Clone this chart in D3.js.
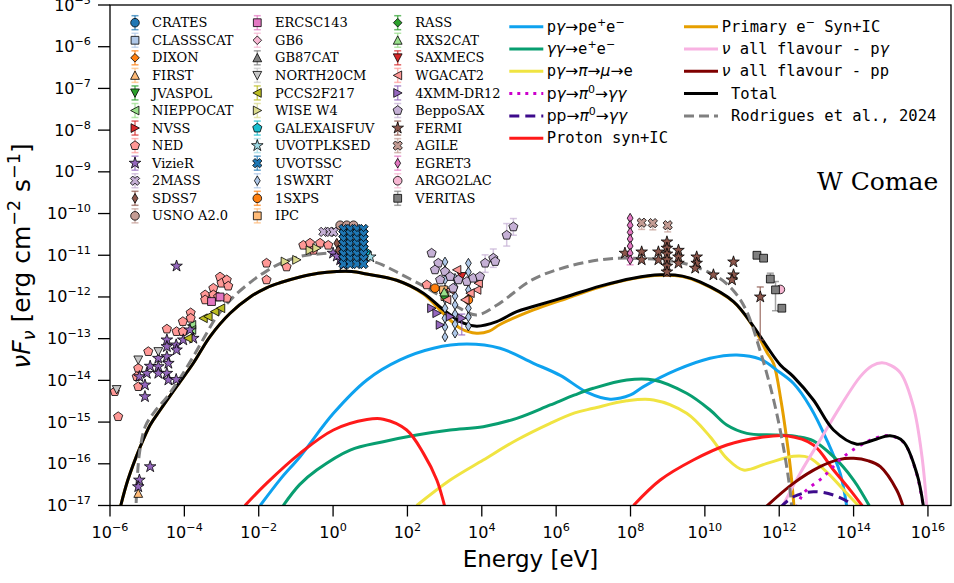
<!DOCTYPE html>
<html><head><meta charset="utf-8">
<script src="https://cdn.jsdelivr.net/npm/d3@7"></script>
<style>body{margin:0;background:#fff}svg{display:block}</style>
</head><body><svg id="chart" width="954" height="583"></svg>
<script>
// ---- Model curves: [log10 E/eV, log10 nuFnu] ----
const totalModel = [[-5.71,-17.0],[-5.52,-16.39],[-5.19,-15.6],[-4.92,-15.07],[-4.65,-14.71],[-4.21,-14.15],[-3.76,-13.59],[-3.31,-12.95],[-2.77,-12.39],[-2.23,-12.0],[-1.79,-11.78],[-1.43,-11.66],[-0.89,-11.52],[-0.4,-11.43],[0.1,-11.39],[0.5,-11.39],[0.9,-11.45],[1.71,-11.6],[2.43,-11.91],[2.97,-12.31],[3.51,-12.63],[3.87,-12.70],[4.40,-12.59],[4.94,-12.35],[5.38,-12.23],[6.29,-11.99],[7.18,-11.74],[8.07,-11.55],[8.8,-11.47],[9.4,-11.5],[9.87,-11.64],[10.77,-12.11],[11.31,-12.71],[11.67,-13.19],[12.03,-13.63],[12.38,-13.91],[12.92,-14.47],[13.46,-15.19],[14.09,-15.53],[14.54,-15.43],[14.98,-15.33],[15.34,-15.47],[15.70,-16.23],[15.88,-17.03]];
const primaryElectrons = [[-5.71,-17.0],[-5.52,-16.39],[-5.19,-15.6],[-4.92,-15.07],[-4.65,-14.71],[-4.21,-14.15],[-3.76,-13.59],[-3.31,-12.95],[-2.77,-12.39],[-2.23,-12.0],[-1.79,-11.78],[-1.43,-11.66],[-0.89,-11.52],[-0.4,-11.43],[0.1,-11.39],[0.5,-11.39],[0.9,-11.45],[1.71,-11.6],[2.43,-11.93],[2.97,-12.40],[3.42,-12.75],[3.86,-12.87],[4.2,-12.82],[4.49,-12.66],[5.39,-12.31],[6.29,-12.03],[7.18,-11.76],[8.07,-11.56],[8.8,-11.48],[9.4,-11.51],[9.87,-11.65],[10.77,-12.12],[11.31,-12.73],[11.67,-13.33],[11.85,-13.6],[12.05,-14.5],[12.2,-15.4],[12.3,-16.1],[12.4,-17.05]];
const bhPairs = [[-1.96,-17.0],[-1.4,-16.35],[-0.89,-15.83],[0.01,-14.79],[0.91,-13.99],[1.80,-13.51],[2.70,-13.23],[3.60,-13.13],[4.49,-13.23],[5.39,-13.59],[6.11,-13.88],[6.82,-14.28],[7.45,-14.45],[8.0,-14.35],[8.35,-14.15],[9.24,-13.75],[10.14,-13.47],[10.86,-13.39],[11.49,-13.49],[12.0,-13.8],[12.38,-14.07],[12.83,-14.63],[13.28,-15.43],[13.64,-16.23],[13.82,-17.05]];
const ggPairs = [[-1.34,-17.0],[-0.9,-16.5],[-0.44,-16.15],[0.46,-15.67],[1.35,-15.47],[2.25,-15.31],[3.15,-15.19],[4.04,-15.11],[4.94,-14.91],[5.84,-14.59],[6.5,-14.35],[7.0,-14.19],[7.9,-13.99],[8.62,-13.99],[9.51,-14.31],[10.14,-14.71],[10.59,-15.07],[11.13,-15.27],[11.94,-15.31],[12.5,-15.35],[12.92,-15.45],[13.46,-15.83],[14.0,-16.39],[14.45,-17.05]];
const pionDecayElectrons = [[2.25,-17.0],[3.15,-16.39],[4.04,-15.91],[4.94,-15.43],[5.84,-15.03],[6.5,-14.78],[7.0,-14.67],[7.9,-14.49],[8.62,-14.47],[9.51,-14.79],[10.14,-15.35],[10.59,-15.87],[11.04,-16.15],[11.67,-15.99],[12.38,-15.82],[12.8,-15.85],[13.28,-16.2],[13.82,-16.71],[14.18,-17.05]];
const protonSynLow = [[-2.37,-17.0],[-1.79,-16.47],[-0.89,-15.75],[0.01,-15.19],[0.91,-14.94],[1.35,-14.93],[1.98,-15.19],[2.43,-15.75],[2.79,-16.39],[3.01,-17.05]];
const protonSynHigh = [[8.08,-17.0],[8.80,-16.39],[9.69,-15.91],[10.59,-15.55],[11.49,-15.37],[12.2,-15.33],[12.92,-15.55],[13.46,-16.15],[13.91,-16.63],[14.27,-17.05]];
const pgPi0 = [[12.47,-17.05],[12.65,-16.71],[13.19,-16.31],[13.73,-15.83],[14.36,-15.47],[14.72,-15.35],[15.0,-15.33],[15.34,-15.48],[15.7,-16.25],[15.88,-17.05]];
const ppPi0 = [[12.03,-17.05],[12.38,-16.79],[12.92,-16.67],[13.46,-16.75],[13.91,-16.95],[14.0,-17.05]];
const nuPg = [[12.07,-17.05],[12.56,-16.23],[13.1,-15.43],[13.64,-14.63],[14.18,-13.91],[14.5,-13.65],[14.76,-13.58],[15.0,-13.64],[15.27,-13.83],[15.61,-14.63],[15.84,-15.83],[15.97,-17.05]];
const nuPp = [[11.62,-17.05],[12.38,-16.47],[13.1,-16.07],[13.6,-15.9],[14.0,-15.87],[14.4,-15.93],[14.72,-16.07],[15.16,-16.63],[15.34,-17.05]];
const rodrigues2024 = [[-5.31,-17.3],[-5.27,-16.4],[-5.2,-15.7],[-5.05,-15.1],[-4.8,-14.75],[-4.47,-14.4],[-4.12,-13.95],[-3.76,-13.43],[-3.40,-12.87],[-3.13,-12.47],[-2.68,-12.0],[-2.14,-11.59],[-1.79,-11.38],[-1.43,-11.2],[-0.9,-11.03],[-0.4,-10.97],[0.28,-10.95],[0.82,-11.08],[1.3,-11.22],[1.75,-11.42],[2.61,-11.83],[3.33,-12.23],[3.86,-12.43],[4.4,-12.2],[5.35,-11.59],[6.2,-11.3],[7.18,-11.11],[8.08,-11.07],[9.42,-11.19],[10.32,-11.51],[10.77,-11.85],[11.1,-12.3],[11.49,-13.3],[11.85,-14.47],[12.11,-15.59],[12.29,-16.63],[12.36,-17.3]];

// ---- Archival photometry: [log10 E, log10 nuFnu, (err down), (err up)] ----
const CRATES = [];
const CLASSSCAT = [];
const DIXON = [];
const FIRST = [[-5.24,-16.71]];
const JVASPOL = [];
const NIEPPOCAT = [[-3.80,-12.67],[-3.80,-12.79]];
const NVSS = [];
const NED = [[-5.87,-14.27],[-5.78,-14.87],[-5.24,-13.71],[-5.28,-13.91],[-5.24,-14.15],[-4.97,-13.31],[-4.47,-12.77],[-4.21,-12.83],[-4.04,-12.59],[-4.04,-12.83],[-3.83,-12.38],[-3.83,-12.51],[-3.44,-11.95],[-3.44,-12.07],[-3.22,-11.79],[-3.22,-11.95],[-3.04,-11.52],[-3.0,-11.67],[-2.86,-11.59],[-2.82,-11.74],[-3.09,-12.0],[-2.86,-12.03],[-1.79,-11.19],[-1.79,-11.59],[-1.25,-11.28],[-0.80,-10.76],[-0.62,-10.71],[-0.35,-10.71],[-0.13,-10.76],[-0.53,-10.88],[2.52,-11.71]];
const VizieR = [[-4.21,-11.26],[-4.92,-16.07],[-5.21,-16.39],[-5.24,-16.55],[-5.01,-13.83],[-4.92,-13.66],[-5.21,-13.91],[-5.06,-14.11],[-5.06,-14.39],[-4.70,-13.67],[-4.70,-13.83],[-4.47,-13.03],[-4.47,-13.19],[-4.47,-13.43],[-4.43,-13.59],[-4.47,-13.83],[-4.43,-13.99],[-4.22,-13.15],[-4.22,-13.98],[-4.21,-13.27],[-4.03,-13.03],[-3.76,-12.99],[-3.85,-12.79],[-4.70,-13.47],[0.0,-10.95],[0.19,-11.11],[0.28,-11.23],[0.10,-11.02]];
const TWOMASS = [[-0.26,-10.44],[-0.08,-10.44],[0.01,-10.44]];
const SDSS7 = [[0.10,-10.71],[0.14,-10.88]];
const USNO = [[0.19,-10.28],[0.37,-10.28],[0.55,-10.28]];
const ERCSC143 = [[-3.27,-12.11],[-3.04,-12.0]];
const GB6 = [];
const GB87CAT = [];
const NORTH20CM = [[-5.82,-14.22],[-5.24,-13.51],[-4.70,-13.31]];
const PCCS2F217 = [[-3.49,-12.51],[-3.36,-12.47],[-3.18,-12.35],[-3.02,-12.27],[-3.90,-12.99]];
const WISEW4 = [[-1.29,-11.15],[-0.98,-11.11],[-0.62,-10.88],[-0.44,-10.83]];
const GALEXAISFUV = [[0.91,-10.95]];
const UVOTPLKSED = [[1.0,-11.04]];
const UVOTSSC = [
  [0.28,-10.37],[0.28,-10.49],[0.28,-10.61],[0.28,-10.73],[0.28,-10.85],[0.28,-10.97],[0.28,-11.09],[0.28,-11.21],
  [0.46,-10.37],[0.46,-10.49],[0.46,-10.61],[0.46,-10.73],[0.46,-10.85],[0.46,-10.97],[0.46,-11.09],[0.46,-11.21],
  [0.64,-10.37],[0.64,-10.49],[0.64,-10.61],[0.64,-10.73],[0.64,-10.85],[0.64,-10.97],[0.64,-11.09],[0.64,-11.21],
  [0.82,-10.37],[0.82,-10.49],[0.82,-10.61],[0.82,-10.73],[0.82,-10.85],[0.82,-10.97],[0.82,-11.09],[0.82,-11.21]];
const SWXRT = [
  [3.01,-11.16],[3.01,-11.37],[3.01,-11.59],[3.01,-11.83],[3.01,-12.05],[3.01,-12.27],[3.01,-12.51],[3.01,-12.72],[3.01,-12.96],
  [3.28,-11.55],[3.28,-11.76],[3.28,-11.98],[3.28,-12.19],[3.28,-12.41],[3.28,-12.65],[3.28,-12.87],
  [3.64,-11.19],[3.64,-11.40],[3.64,-11.62],[3.64,-11.83],[3.64,-12.05],[3.64,-12.27],[3.64,-12.48],[3.64,-12.70]];
const SXPS = [[2.74,-11.79],[3.64,-12.07]];
const IPC = [[2.97,-11.83],[3.01,-11.99]];
const RASS = [[3.01,-11.99]];
const RXS2CAT = [[2.99,-11.88]];
const SAXMECS = [[3.46,-11.51]];
const WGACAT2 = [[3.15,-11.83],[3.33,-11.35],[3.87,-11.83],[3.69,-11.91],[3.06,-12.07],[3.91,-11.67],[3.55,-12.07]];
const XMMDR12 = [[2.65,-12.27],[2.79,-12.39],[3.15,-12.47],[3.46,-12.51,0.4,0.1],[2.88,-12.67]];
const BeppoSAX = [[2.65,-10.95],[2.83,-11.19],[2.74,-11.35],[3.01,-11.39],[2.88,-11.59],[3.15,-11.51],[3.37,-11.59],[3.60,-11.63],[3.77,-11.55],[3.95,-11.51],[3.23,-11.79],[4.09,-11.19,0.22,0.2],[4.31,-11.07,0.22,0.22],[4.36,-11.15],[4.67,-10.52,0.26,0.28],[4.85,-10.32,0.2,0.2]];
const FERMI = [[7.85,-10.95],[8.30,-10.92],[8.30,-11.11],[8.75,-10.92],[8.75,-11.11],[8.98,-10.68],[8.98,-10.83],[8.98,-10.97],[8.98,-11.11],[8.98,-11.26],[8.98,-11.40,0.1,0.05],[9.29,-10.88],[9.29,-11.04],[9.29,-11.19],[9.78,-11.04],[9.78,-11.19],[9.74,-11.31],[10.23,-11.47],[10.77,-11.16],[10.77,-11.47],[10.73,-11.59],[11.49,-12.0,1.03,0.24]];
const AGILE = [[8.30,-10.22,0.16,0.04],[8.60,-10.23,0.16,0.04],[9.0,-10.28,0.16,0.04]];
const EGRET3 = [[7.99,-10.11],[7.99,-10.28],[7.99,-10.45],[7.99,-10.61],[7.99,-10.78],[7.99,-10.95],[7.99,-11.11,0.12,0.05]];
const ARGO2LAC = [[12.03,-11.82]];
const VERITAS = [[11.40,-11.0],[11.58,-11.07],[11.76,-11.57,0.06,0.14],[11.90,-11.83,0.5,0.2],[12.07,-12.27]];

const catalogNames = ["CRATES","CLASSSCAT","DIXON","FIRST","JVASPOL","NIEPPOCAT","NVSS","NED","VizieR","2MASS","SDSS7","USNO A2.0",
  "ERCSC143","GB6","GB87CAT","NORTH20CM","PCCS2F217","WISE W4","GALEXAISFUV","UVOTPLKSED","UVOTSSC","1SWXRT","1SXPS","IPC",
  "RASS","RXS2CAT","SAXMECS","WGACAT2","4XMM-DR12","BeppoSAX","FERMI","AGILE","EGRET3","ARGO2LAC","VERITAS"];
const catalogData = [CRATES,CLASSSCAT,DIXON,FIRST,JVASPOL,NIEPPOCAT,NVSS,NED,VizieR,TWOMASS,SDSS7,USNO,
  ERCSC143,GB6,GB87CAT,NORTH20CM,PCCS2F217,WISEW4,GALEXAISFUV,UVOTPLKSED,UVOTSSC,SWXRT,SXPS,IPC,
  RASS,RXS2CAT,SAXMECS,WGACAT2,XMMDR12,BeppoSAX,FERMI,AGILE,EGRET3,ARGO2LAC,VERITAS];

const xTickExps = [-6,-4,-2,0,2,4,6,8,10,12,14,16];
const yTickExps = [-17,-16,-15,-14,-13,-12,-11,-10,-9,-8,-7,-6,-5];

// ---- styles ----
const tab20 = ["#1f77b4","#aec7e8","#ff7f0e","#ffbb78","#2ca02c","#98df8a","#d62728","#ff9896","#9467bd","#c5b0d5",
  "#8c564b","#c49c94","#e377c2","#f7b6d2","#7f7f7f","#c7c7c7","#bcbd22","#dbdb8d","#17becf","#9edae5"];
const markerCycle = ["o","s","D","^","v","<",">","p","*","X","d"];

const svg = d3.select("#chart");
svg.append("rect").attr("width",954).attr("height",583).attr("fill","#fff");
const X0=110, X1=951, Y0=5, Y1=505.5;
const x = d3.scaleLog().domain([1e-6, Math.pow(10,16.62)]).range([X0,X1]);
const y = d3.scaleLog().domain([1e-17,1e-5]).range([Y1,Y0]);
const px = d => x(Math.pow(10,d[0])), py = d => y(Math.pow(10,d[1]));

svg.append("clipPath").attr("id","plotclip").append("rect")
  .attr("x",X0).attr("y",Y0).attr("width",X1-X0).attr("height",Y1-Y0);
const plot = svg.append("g").attr("clip-path","url(#plotclip)");

// model curves
const line = d3.line().x(px).y(py).curve(d3.curveCatmullRom.alpha(0.5));
const curves = [
  {d:primaryElectrons, c:"#e69f00", w:3},
  {d:bhPairs, c:"#0ea2ef", w:3},
  {d:ggPairs, c:"#089e70", w:3},
  {d:pionDecayElectrons, c:"#f0e442", w:3},
  {d:protonSynLow, c:"#ff1a1a", w:3},
  {d:protonSynHigh, c:"#ff1a1a", w:3},
  {d:nuPg, c:"#f8b2e2", w:3},
  {d:nuPp, c:"#7f0000", w:3},
  {d:ppPi0, c:"#3d0b8c", w:3, dash:"10,6"},
  {d:pgPi0, c:"#cc00cc", w:3, dash:"3,6"},
  {d:totalModel, c:"#000", w:3},
  {d:rodrigues2024, c:"#808080", w:3, dash:"10,5"}
];
curves.forEach(k => {
  plot.append("path").attr("d", line(k.d)).attr("fill","none").attr("stroke",k.c)
    .attr("stroke-width",k.w).attr("stroke-dasharray",k.dash||null).attr("stroke-linejoin","round");
});

// marker shapes
function polyPath(pts){ return "M"+pts.map(p=>p[0].toFixed(2)+","+p[1].toFixed(2)).join("L")+"Z"; }
function markerPath(m){
  const R=4.4;
  switch(m){
    case "o": return "M4.3,0A4.3,4.3 0 1,1 -4.3,0A4.3,4.3 0 1,1 4.3,0Z";
    case "s": return polyPath([[-3.9,-3.9],[3.9,-3.9],[3.9,3.9],[-3.9,3.9]]);
    case "D": return polyPath([[0,-4.3],[4.3,0],[0,4.3],[-4.3,0]]);
    case "d": return polyPath([[0,-4.8],[2.9,0],[0,4.8],[-2.9,0]]);
    case "^": return polyPath([[0,-R],[R,R*0.9],[-R,R*0.9]]);
    case "v": return polyPath([[0,R],[R,-R*0.9],[-R,-R*0.9]]);
    case "<": return polyPath([[-R,0],[R*0.9,-R],[R*0.9,R]]);
    case ">": return polyPath([[R,0],[-R*0.9,-R],[-R*0.9,R]]);
    case "p": { const p=[]; for(let i=0;i<5;i++){const a=-Math.PI/2+i*2*Math.PI/5; p.push([4.8*Math.cos(a),4.8*Math.sin(a)]);} return polyPath(p); }
    case "*": { const p=[]; for(let i=0;i<10;i++){const a=-Math.PI/2+i*Math.PI/5, r=i%2?2.35:6.1; p.push([r*Math.cos(a),r*Math.sin(a)]);} return polyPath(p); }
    case "X": { const L=4.9,w=1.7; const base=[[-w,-L],[w,-L],[w,-w],[L,-w],[L,w],[w,w],[w,L],[-w,L],[-w,w],[-L,w],[-L,-w],[-w,-w]];
      const c=Math.SQRT1_2; return polyPath(base.map(([a,b])=>[c*(a-b),c*(a+b)])); }
  }
}

// data points with error bars
const pts = plot.append("g");
catalogData.forEach((arr,i) => {
  const col = tab20[i%20], mk = markerCycle[i%11];
  const g = pts.append("g");
  arr.forEach(d => {
    if (d.length > 2) {
      const xx = px(d), ylo = y(Math.pow(10,d[1]-d[2])), yhi = y(Math.pow(10,d[1]+d[3]));
      g.append("line").attr("x1",xx).attr("x2",xx).attr("y1",ylo).attr("y2",yhi)
        .attr("stroke",col).attr("stroke-width",1.5).attr("opacity",0.7);
      [ylo,yhi].forEach(yy => g.append("line").attr("x1",xx-3.5).attr("x2",xx+3.5).attr("y1",yy).attr("y2",yy)
        .attr("stroke",col).attr("stroke-width",1.5).attr("opacity",0.7));
    }
  });
  g.selectAll("path.m").data(arr).join("path").attr("class","m")
    .attr("d", markerPath(mk)).attr("transform", d => `translate(${px(d)},${py(d)})`)
    .attr("fill", col).attr("stroke","#000").attr("stroke-width",0.8);
});

// axes frame and ticks
const axes = svg.append("g");
axes.append("rect").attr("x",X0).attr("y",Y0).attr("width",X1-X0).attr("height",Y1-Y0)
  .attr("fill","none").attr("stroke","#000").attr("stroke-width",1.3);
const tickFont = "DejaVu Sans, sans-serif";
xTickExps.forEach(e => {
  const xx = x(Math.pow(10,e));
  axes.append("line").attr("x1",xx).attr("x2",xx).attr("y1",Y1).attr("y2",Y1+11).attr("stroke","#000").attr("stroke-width",1.3);
  const t = axes.append("text").attr("x",xx).attr("y",Y1+32).attr("text-anchor","middle")
    .attr("font-family",tickFont).attr("font-size",16).attr("fill","#000");
  t.append("tspan").text("10");
  t.append("tspan").attr("dy",-7).attr("font-size",11.2).text(String(e).replace("-","\u2212"));
});
yTickExps.forEach(e => {
  const yy = y(Math.pow(10,e));
  axes.append("line").attr("x1",X0-12).attr("x2",X0).attr("y1",yy).attr("y2",yy).attr("stroke","#000").attr("stroke-width",1.3);
  const t = axes.append("text").attr("x",91).attr("y",yy+5.5).attr("text-anchor","end")
    .attr("font-family",tickFont).attr("font-size",16).attr("fill","#000");
  t.append("tspan").text("10");
  t.append("tspan").attr("dy",-7).attr("font-size",11.2).text(String(e).replace("-","\u2212"));
});

// axis titles
svg.append("text").attr("x",(X0+X1)/2).attr("y",567).attr("text-anchor","middle")
  .attr("font-family",tickFont).attr("font-size",23).text("Energy [eV]");
const yl = svg.append("text").attr("transform","translate(30,256) rotate(-90)").attr("text-anchor","middle")
  .attr("font-family",tickFont).attr("font-size",25);
yl.append("tspan").attr("font-style","italic").text("\u03bdF");
yl.append("tspan").attr("font-style","italic").attr("font-size",17.5).attr("dy",5).text("\u03bd");
yl.append("tspan").attr("dy",-5).text(" [erg cm");
yl.append("tspan").attr("font-size",17.5).attr("dy",-10).text("\u22122");
yl.append("tspan").attr("dy",10).text(" s");
yl.append("tspan").attr("font-size",17.5).attr("dy",-10).text("\u22121");
yl.append("tspan").attr("dy",10).text("]");

// source name
svg.append("text").attr("x",817).attr("y",190).attr("font-family","DejaVu Serif, serif")
  .attr("font-size",25).text("W Comae");

// catalogue legend
const legMx = [135, 257.3, 397.7], legTx = [152, 275, 415.3];
catalogNames.forEach((name,i) => {
  const colIdx = i < 12 ? 0 : (i < 24 ? 1 : 2), row = i < 12 ? i : (i < 24 ? i-12 : i-24);
  const yy = 22.7 + row*17.56, col = tab20[i%20];
  const g = svg.append("g");
  g.append("line").attr("x1",legMx[colIdx]).attr("x2",legMx[colIdx]).attr("y1",yy-7).attr("y2",yy+7)
    .attr("stroke",col).attr("stroke-width",1.5).attr("opacity",0.7);
  [yy-7,yy+7].forEach(v => g.append("line").attr("x1",legMx[colIdx]-3.5).attr("x2",legMx[colIdx]+3.5)
    .attr("y1",v).attr("y2",v).attr("stroke",col).attr("stroke-width",1.5).attr("opacity",0.7));
  g.append("path").attr("d",markerPath(markerCycle[i%11])).attr("transform",`translate(${legMx[colIdx]},${yy})`)
    .attr("fill",col).attr("stroke","#000").attr("stroke-width",0.8);
  g.append("text").attr("x",legTx[colIdx]).attr("y",yy+4.6).attr("font-family","DejaVu Serif, serif")
    .attr("font-size",13).text(name);
});

// model legend
const MONO = "DejaVu Sans Mono, monospace", SANS = "DejaVu Sans, sans-serif";
function richText(g, xx, yy, parts){
  const t = g.append("text").attr("x",xx).attr("y",yy).attr("font-size",15.5).attr("xml:space","preserve")
    .style("white-space","pre");
  let shift = 0;
  parts.forEach(([s,k]) => {
    const sp = t.append("tspan").text(s);
    let target = 0;
    if (k === "m") sp.attr("font-family",MONO);
    else if (k === "i") sp.attr("font-family",SANS).attr("font-style","italic");
    else if (k === "s") sp.attr("font-family",SANS);
    else if (k === "sup") { sp.attr("font-family",SANS).attr("font-size",11); target = -6; }
    sp.attr("dy", target - shift); shift = target;
  });
}
const modelLegend = [
  {c:"#0ea2ef", parts:[["p","m"],["\u03b3","i"],["\u2192","s"],["pe","m"],["+","sup"],["e","m"],["\u2212","sup"]]},
  {c:"#089e70", parts:[["\u03b3\u03b3","i"],["\u2192","s"],["e","m"],["+","sup"],["e","m"],["\u2212","sup"]]},
  {c:"#f0e442", parts:[["p","m"],["\u03b3","i"],["\u2192","s"],["\u03c0","i"],["\u2192","s"],["\u03bc","i"],["\u2192","s"],["e","m"]]},
  {c:"#cc00cc", dash:"3,5", parts:[["p","s"],["\u03b3","i"],["\u2192","s"],["\u03c0","i"],["0","sup"],["\u2192","s"],["\u03b3\u03b3","i"]]},
  {c:"#3d0b8c", dash:"10,6", parts:[["pp","s"],["\u2192","s"],["\u03c0","i"],["0","sup"],["\u2192","s"],["\u03b3\u03b3","i"]]},
  {c:"#ff1a1a", parts:[["Proton syn+IC","m"]]},
  {c:"#e69f00", parts:[["Primary e","m"],["\u2212","sup"],[" Syn+IC","m"]]},
  {c:"#f8b2e2", parts:[["\u03bd","i"],[" all flavour - p","m"],["\u03b3","i"]]},
  {c:"#7f0000", parts:[["\u03bd","i"],[" all flavour - pp","m"]]},
  {c:"#000", parts:[[" Total","m"]]},
  {c:"#808080", dash:"10,5", parts:[[" Rodrigues et al., 2024","m"]]}
];
modelLegend.forEach((L,i) => {
  const colIdx = i < 6 ? 0 : 1, row = i < 6 ? i : i-6;
  const yy = 26.7 + row*22.3;
  const lx = colIdx ? 684 : 509.3, tx = colIdx ? 721.7 : 546.7;
  const g = svg.append("g");
  g.append("line").attr("x1",lx).attr("x2",lx+34).attr("y1",yy).attr("y2",yy)
    .attr("stroke",L.c).attr("stroke-width",3).attr("stroke-dasharray",L.dash||null);
  richText(g, tx, yy+5, L.parts);
});
</script></body></html>
